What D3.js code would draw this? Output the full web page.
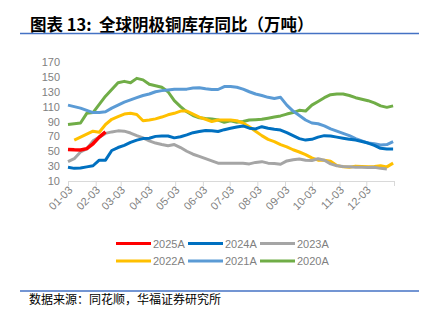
<!DOCTYPE html>
<html><head><meta charset="utf-8">
<script src="https://cdn.jsdelivr.net/npm/d3@7"></script>
<style>
html,body{margin:0;padding:0;background:#fff;}
svg{display:block;}
</style></head>
<body>
<svg id="c" width="433" height="321"></svg>
<script>
const titleA = "图表 13:";
const titleB = "全球阴极铜库存同比（万吨）";
const source = "数据来源：同花顺，华福证券研究所";
const monthLabels = ["01-03","02-03","03-03","04-03","05-03","06-03","07-03","08-03","09-03","10-03","11-03","12-03"];
const yTicks = [10,30,50,70,90,110,130,150,170];
const seriesNames = ["2025A","2024A","2023A","2022A","2021A","2020A"];
const seriesColors = ["#FF0000","#0070C0","#A5A5A5","#FFC000","#5B9BD5","#70AD47"];
// weekly values from 01-03
const s2025 = [52.5,52,51.8,53.5,60,69,76];
const s2024 = [28.5,27,27.5,29,30.5,38,38,51,55,58,62,65,67,67.5,70,70.5,70.5,68,69.5,72,75,76.5,78,77.5,76.5,79,81,82.5,84,81,80,83,81,79.5,78.5,75,71,67,65,66,69,71,70.5,69,67.5,66,65,63,61,58,54,53,53];
const s2023 = [36,40,49,53,64,69,74,76,77.4,77,74.5,71,68,64,61,59,57.5,59,55,50,46,43,40,37,34,34,34,34,34,33,35,36,34,33.5,32.5,37,38.5,39.5,38,37.5,40,38,33,30.5,29.5,29,28.5,28.5,28,28.5,27,26];
const s2022 = [null,65,69,73,77,75.5,86,93,96.5,100,101,99.5,91,92,93.5,96,99,101,104,104,100,96,93,90,92,92,92,91,88,83,77,71,66,63,59,56,52,49,45.5,41,38,38,36.5,31,29,28.5,30,29.5,29,29.5,30.5,29,34];
const s2021 = [112,110,108,105,102,102,103,108,112,116,119,122,125,127,130,131.5,132.5,133.5,133.5,133.5,135,135.5,134,133,133,137,137,136,133.5,130,127,125,122.5,121,122.5,112,104,98,92,88,87,84,80,77,74,71,67,64,61,60,58.5,59,63];
const s2020 = [86,87,88,101,102,113,124,133,142,144,142,148,146,140,138,136,130,118,110,103,98,95,94,93.5,92,89,91,89,90,92,92.5,93,94.5,96,97.5,100,102,105,104,112,117,122,126,127,127,125,122,120,118,115,111,109,111];
const seriesData = [s2025,s2024,s2023,s2022,s2021,s2020];

const svg = d3.select("#c");
const font = "'Liberation Sans', Arial, sans-serif";
const cjk = "'Noto Sans CJK SC', sans-serif";

// title
svg.append("text").attr("x",30).attr("y",31).attr("font-family",cjk).attr("font-weight","bold")
  .attr("font-size",16.5).attr("fill","#000").text(titleA);
svg.append("text").attr("x",99).attr("y",31).attr("font-family",cjk).attr("font-weight","bold")
  .attr("font-size",16.5).attr("fill","#000").text(titleB);
svg.append("line").attr("x1",20).attr("x2",419).attr("y1",33.5).attr("y2",33.5)
  .attr("stroke","#4472C4").attr("stroke-width",1.3);

const start = new Date(2023,0,3), end = new Date(2024,0,3);
const x = d3.scaleTime().domain([start,end]).range([68,394]);
const y = d3.scaleLinear().domain([10,170]).range([181,62]);

// y axis labels
const ya = svg.append("g").attr("transform","translate(62,0)")
  .call(d3.axisLeft(y).tickValues(yTicks).tickSize(0).tickPadding(2));
ya.select(".domain").remove();
ya.selectAll("text").attr("font-family",font).attr("font-size",11).attr("fill","#7f7f7f");

// x axis
const tickDates = d3.timeMonth.range(new Date(2023,0,1), new Date(2024,0,2)).map(d=>new Date(d.getFullYear(),d.getMonth(),3));
tickDates.push(end);
const xa = svg.append("g").attr("transform","translate(0,181)")
  .call(d3.axisBottom(x).tickValues(tickDates).tickSizeOuter(0).tickSize(5)
    .tickFormat((d,i)=> i<monthLabels.length ? monthLabels[i] : ""));
xa.select(".domain").attr("stroke","#d9d9d9");
xa.selectAll(".tick line").attr("stroke","#d9d9d9");
xa.selectAll("text").attr("font-family",font).attr("font-size",11).attr("fill","#7f7f7f")
  .attr("text-anchor","end").attr("transform","translate(2,7) rotate(-45)").attr("dy","0.35em").attr("y",0).attr("x",0);

// lines
const line = d3.line().defined(v=>v!=null).x((v,i)=>x(d3.timeDay.offset(start,7*i))).y(v=>y(v));
for (let k=seriesData.length-1;k>=0;k--){
  svg.append("path").datum(seriesData[k]).attr("d",line).attr("fill","none")
    .attr("stroke",seriesColors[k]).attr("stroke-width",k===0?3.5:3).attr("stroke-linejoin","round");
}

// legend
const lgX = [116,188,260], lgY = [243.5,261];
seriesNames.forEach((n,i)=>{
  const cx = lgX[i%3], cy = lgY[Math.floor(i/3)];
  svg.append("line").attr("x1",cx).attr("x2",cx+35).attr("y1",cy).attr("y2",cy)
    .attr("stroke",seriesColors[i]).attr("stroke-width",3);
  svg.append("text").attr("x",cx+37).attr("y",cy+4).attr("font-family",font).attr("font-size",11)
    .attr("fill","#7f7f7f").text(n);
});

// footer
svg.append("line").attr("x1",20).attr("x2",419).attr("y1",291).attr("y2",291)
  .attr("stroke","#4472C4").attr("stroke-width",1.3);
svg.append("text").attr("x",29).attr("y",304).attr("font-family",cjk).attr("font-size",12)
  .attr("fill","#000").text(source);
</script>
</body></html>
